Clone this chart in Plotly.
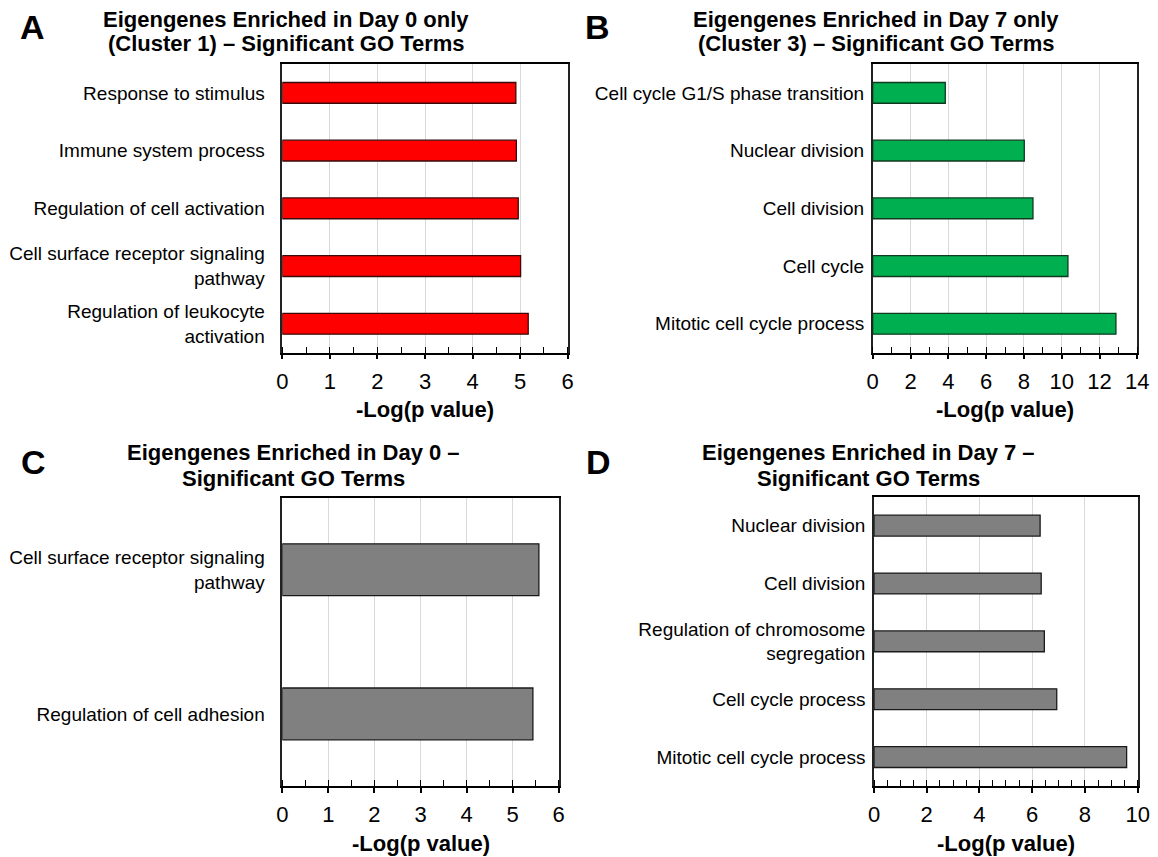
import plotly.graph_objects as go

# page body has an 8px margin; figure is sized to fill the rest of the window
OFF = 8
W, H = 1150, 849

# ---------------- data ----------------
a_terms = ["Response to stimulus", "Immune system process", "Regulation of cell activation",
           "Cell surface receptor signaling<br>pathway", "Regulation of leukocyte<br>activation"]
a_vals = [4.91, 4.92, 4.96, 5.01, 5.17]

b_terms = ["Cell cycle G1/S phase transition", "Nuclear division", "Cell division",
           "Cell cycle", "Mitotic cell cycle process"]
b_vals = [3.84, 8.02, 8.48, 10.33, 12.87]

c_terms = ["Cell surface receptor signaling<br>pathway", "Regulation of cell adhesion"]
c_vals = [5.57, 5.44]

d_terms = ["Nuclear division", "Cell division", "Regulation of chromosome<br>segregation",
           "Cell cycle process", "Mitotic cell cycle process"]
d_vals = [6.30, 6.34, 6.46, 6.93, 9.58]

a_title = ["Eigengenes Enriched in Day 0 only", "(Cluster 1) – Significant GO Terms"]
b_title = ["Eigengenes Enriched in Day 7 only", "(Cluster 3) – Significant GO Terms"]
c_title = ["Eigengenes Enriched in Day 0 –", "Significant GO Terms"]
d_title = ["Eigengenes Enriched in Day 7 –", "Significant GO Terms"]
x_label = "-Log(p value)"

# ---------------- layout helpers ----------------
FONT = "Liberation Sans, Arial, sans-serif"


def px(x):
    return (x - OFF) / W


def py(y):
    return 1 - (y - OFF) / H


panels = [
    dict(terms=a_terms, vals=a_vals, color="#ff0000", line="#3a0a0a", rng=[0, 6], dtick=1, minor=0.5,
         box=(282.3, 64, 567.7, 352.7), title=a_title, tx=286, ty=(20, 44), letter="A", lx=32, ly=27, stand=12),
    dict(terms=b_terms, vals=b_vals, color="#00b050", line="#0f3a1f", rng=[0, 14], dtick=2, minor=1,
         box=(872.7, 64, 1137.3, 352.7), title=b_title, tx=876, ty=(20, 44), letter="B", lx=597, ly=27, stand=3),
    dict(terms=c_terms, vals=c_vals, color="#808080", line="#1a1a1a", rng=[0, 6], dtick=1, minor=0.5,
         box=(282.3, 497.7, 558.7, 786), title=c_title, tx=293, ty=(453, 478), letter="C", lx=33, ly=462, stand=12),
    dict(terms=d_terms, vals=d_vals, color="#808080", line="#1a1a1a", rng=[0, 10], dtick=2, minor=0.5,
         box=(874, 496.7, 1137.7, 786), title=d_title, tx=868, ty=(453, 478), letter="D", lx=598, ly=462, stand=3),
]

fig = go.Figure()
annotations = []

for i, p in enumerate(panels, start=1):
    x0, y0, x1, y1 = p["box"]
    xa = "x" if i == 1 else f"x{i}"
    ya = "y" if i == 1 else f"y{i}"
    fig.add_trace(go.Bar(
        x=p["vals"], y=p["terms"], orientation="h",
        marker=dict(color=p["color"], line=dict(color=p["line"], width=1.3)),
        xaxis=xa, yaxis=ya, showlegend=False, hoverinfo="x+y",
    ))
    xkey = "xaxis" if i == 1 else f"xaxis{i}"
    ykey = "yaxis" if i == 1 else f"yaxis{i}"
    fig.layout[xkey] = dict(
        domain=[px(x0), px(x1)], anchor=ya, range=p["rng"], dtick=p["dtick"], tick0=0,
        showgrid=True, gridcolor="#d9d9d9", gridwidth=1,
        showline=True, linecolor="#000000", linewidth=1.5, mirror=True,
        ticks="outside", ticklen=5, tickwidth=1.5, tickcolor="#000000",
        minor=dict(ticks="inside", ticklen=6, tickwidth=1.2, tickcolor="#000000", dtick=p["minor"], showgrid=False),
        tickfont=dict(family=FONT, size=22, color="#000000"), ticklabelstandoff=3,
        zeroline=False, fixedrange=True, automargin=False,
    )
    fig.layout[ykey] = dict(
        domain=[py(y1), py(y0)], anchor=xa, type="category",
        categoryorder="array", categoryarray=p["terms"], autorange="reversed",
        showline=True, linecolor="#222222", linewidth=1.5, mirror=True,
        ticks="", showgrid=False, zeroline=False,
        tickfont=dict(family=FONT, size=19, color="#000000"), ticklabelstandoff=p["stand"],
        fixedrange=True, automargin=False,
    )
    # axis title
    annotations.append(dict(
        text=f"<b>{x_label}</b>", xref="paper", yref="paper",
        x=px((x0 + x1) / 2), y=py(y1 + 57), xanchor="center", yanchor="middle",
        showarrow=False, font=dict(family=FONT, size=22, color="#000000"),
    ))
    # panel title (two lines)
    for line_txt, ty in zip(p["title"], p["ty"]):
        annotations.append(dict(
            text=f"<b>{line_txt}</b>", xref="paper", yref="paper",
            x=px(p["tx"]), y=py(ty), xanchor="center", yanchor="middle",
            showarrow=False, font=dict(family=FONT, size=22, color="#000000"),
        ))
    # panel letter
    annotations.append(dict(
        text=f"<b>{p['letter']}</b>", xref="paper", yref="paper",
        x=px(p["lx"]), y=py(p["ly"]), xanchor="center", yanchor="middle",
        showarrow=False, font=dict(family=FONT, size=34, color="#000000"),
    ))

fig.update_layout(
    width=W, height=H, margin=dict(l=0, r=0, t=0, b=0),
    paper_bgcolor="#ffffff", plot_bgcolor="#ffffff",
    bargap=0.64, annotations=annotations,
    font=dict(family=FONT, color="#000000"),
)

fig.write_html("out.html")
